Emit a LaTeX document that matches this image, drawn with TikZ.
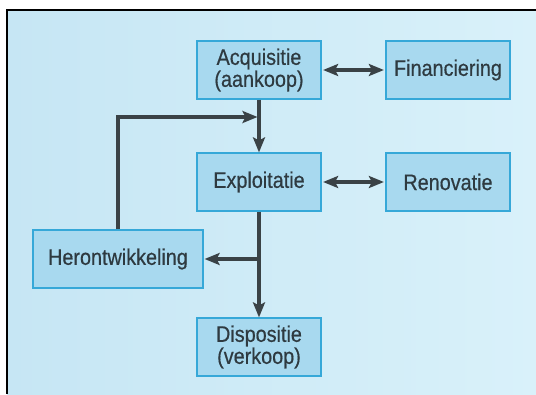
\documentclass[tikz,border=0pt]{standalone}
\usepackage{fontspec}
\setmainfont{Liberation Sans}[FakeStretch=0.88,FakeBold=0.5]
\usetikzlibrary{arrows.meta,calc}
\definecolor{bgL}{HTML}{C6E6F4}
\definecolor{bgR}{HTML}{D9F1FA}
\definecolor{boxfill}{HTML}{A8D9EF}
\definecolor{boxline}{HTML}{36A8D8}
\definecolor{ink}{HTML}{2E3A40}
\definecolor{arrowc}{HTML}{3A4246}
\tikzset{
  boxnode/.style={draw=boxline, line width=1.2pt, fill=boxfill, text=ink,
    minimum width=124pt, minimum height=58pt, align=center, inner sep=0pt,
    font=\fontsize{22.5}{22}\selectfont},
  conn/.style={draw=arrowc, line width=3.2pt,
    -{Stealth[length=15pt,width=12pt,inset=3pt]}},
  dconn/.style={draw=arrowc, line width=3.2pt,
    {Stealth[length=15pt,width=12pt,inset=3pt]}-{Stealth[length=15pt,width=12pt,inset=3pt]},
    shorten <=1.5pt, shorten >=1.5pt}
}
\begin{document}
\begin{tikzpicture}[x=1pt,y=-1pt]
\useasboundingbox (0,0) rectangle (536,394);
\fill[white] (0,0) rectangle (536,394);
\shade[left color=bgL, right color=bgR] (7,10) rectangle (536,394);
\draw[black, line width=2pt] (7,394) -- (7,10) -- (536,10);

\node[boxnode] (acq) at (259,70) {Acquisitie\\(aankoop)};
\node[boxnode] (fin) at (448,70) {Financiering};
\node[boxnode] (expl) at (259,182) {Exploitatie};
\node[boxnode] (ren) at (448,182) {Renovatie};
\node[boxnode, minimum width=170pt] (heron) at (118,259) {Herontwikkeling};
\node[boxnode] (disp) at (259,347) {Dispositie\\(verkoop)};

\coordinate (j1) at (257.5,117);
\coordinate (j2) at (259,259);

\draw[dconn] (acq.east) -- (fin.west);
\draw[dconn] (expl.east) -- (ren.west);
\draw[conn] (acq.south) -- (expl.north);
\draw[conn] (expl.south) -- (disp.north);
\draw[conn] (heron.north) |- (j1);
\draw[conn, shorten >=1pt] (j2) -- (heron.east);
\end{tikzpicture}
\end{document}
